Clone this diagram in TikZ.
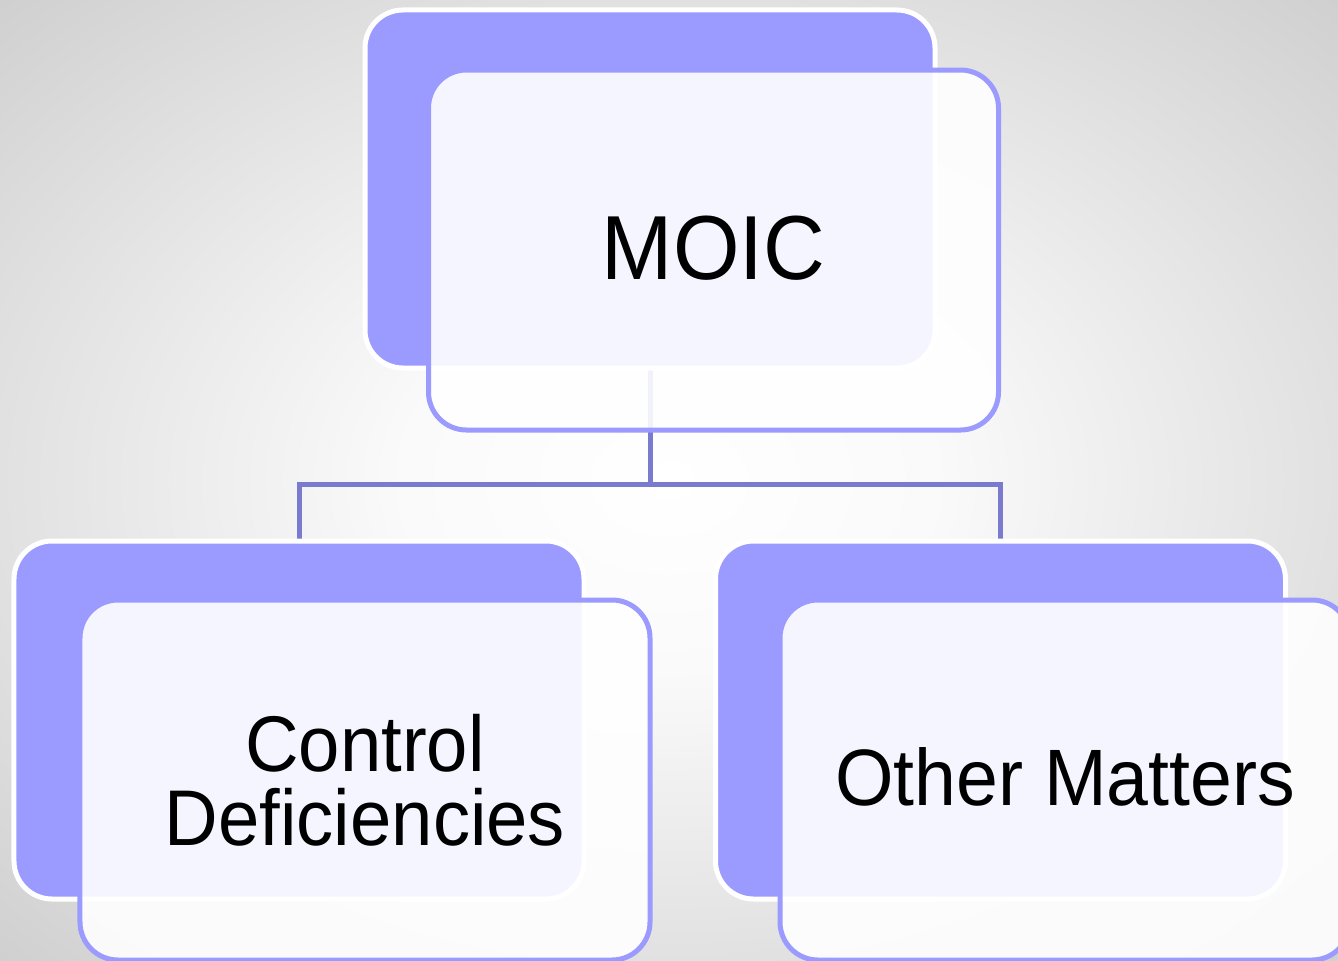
\documentclass[tikz,border=0pt]{standalone}
\usepackage{fontspec}
\setmainfont{Liberation Sans}
\newfontfamily\boxfont[FakeStretch=0.94]{Liberation Sans}
\definecolor{boxpurple}{RGB}{155,155,255}
\definecolor{linkpurple}{RGB}{122,122,206}
\pgfdeclarelayer{bg}
\pgfsetlayers{bg,main}
\pgfdeclareradialshading{backdrop}{\pgfpoint{0bp}{0bp}}{%
  color(0bp)=(white); color(10bp)=(white!98!black);
  color(50bp)=(white!72!black); color(72bp)=(white!60!black)}
\begin{document}
\begin{tikzpicture}[x=1bp,y=-1bp,
  backbox/.style={rectangle, rounded corners=38bp, draw=white, line width=5bp,
    fill=boxpurple, minimum width=570bp, minimum height=358bp,
    inner sep=0pt, outer sep=0pt},
  frontbox/.style={rectangle, rounded corners=38bp, draw=boxpurple, line width=5bp,
    fill=white, fill opacity=0.9, draw opacity=1, text opacity=1,
    minimum width=570bp, minimum height=360bp, inner sep=0pt, outer sep=0pt,
    align=center, text=black},
  link/.style={draw=linkpurple, line width=5bp}]
\useasboundingbox (0,0) rectangle (1338,960);
\clip (0,0) rectangle (1338,960);

% top group
\node[backbox] (topback) at (650,189) {};
\node[frontbox, font=\boxfont\fontsize{91bp}{91bp}\selectfont] (topfront) at (713.5,250)
  {\raisebox{5bp}{MOIC}};

% left group
\node[backbox] (leftback) at (299,720) {};
\node[frontbox, font=\boxfont\fontsize{79bp}{76bp}\selectfont] (leftfront) at (365,780)
  {\raisebox{10bp}{\parbox{480bp}{\centering Control\\[-2bp]Deficiencies}}};

% right group
\node[backbox] (rightback) at (1000.5,720) {};
\node[frontbox, font=\boxfont\fontsize{80bp}{80bp}\selectfont] (rightfront) at (1065,780)
  {\raisebox{6bp}{Other Matters}};

% backdrop and connectors, behind the boxes
\begin{pgfonlayer}{bg}
  \shade[shading=backdrop] (0,0) rectangle (1338,960);
  \coordinate (hub) at (650,484);
  \draw[link] (topback.south) -- (hub);
  \draw[link] (hub) -| (leftback.north);
  \draw[link] (hub) -| (rightback.north);
  \draw[link, line cap=rect] (leftback.north |- hub) -- (rightback.north |- hub);
\end{pgfonlayer}
\end{tikzpicture}
\end{document}
